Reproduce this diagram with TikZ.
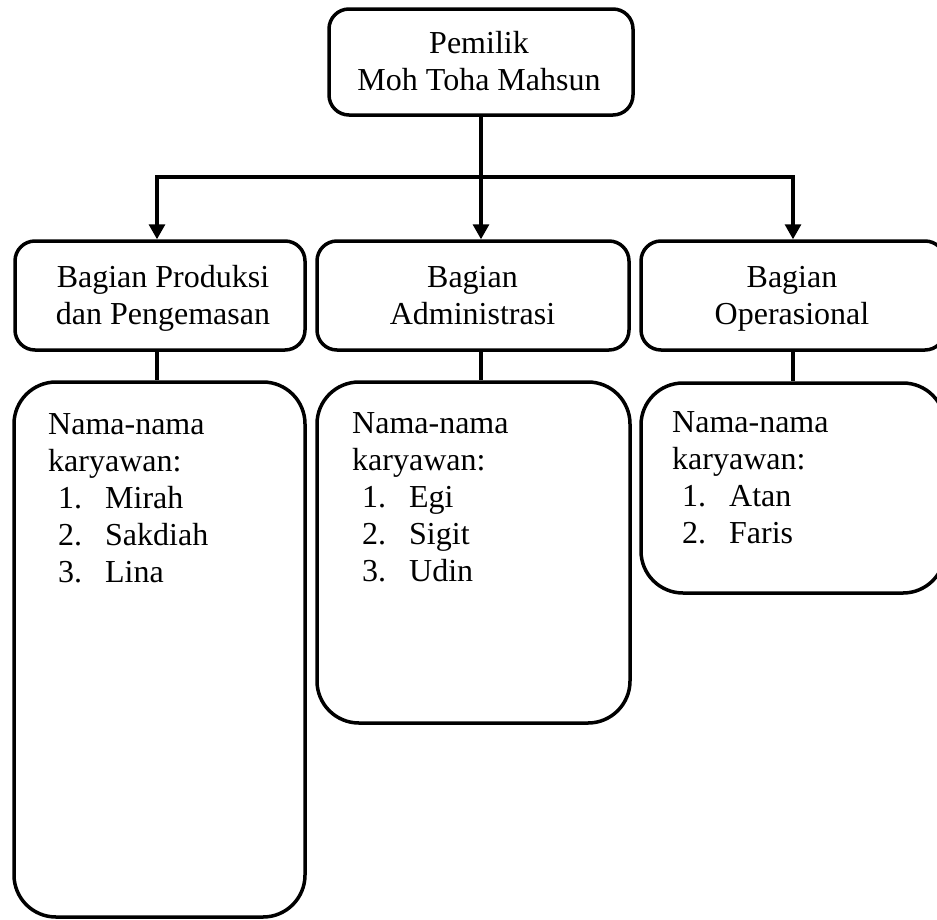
\documentclass[tikz,border=0pt]{standalone}
\usepackage{fontspec}
\setmainfont{Liberation Serif}
\usetikzlibrary{arrows.meta}
\begin{document}
\begin{tikzpicture}[x=1pt,y=-1pt,
  box/.style={draw, line width=3.5pt, rounded corners=20pt, inner sep=0pt},
  bigbox/.style={draw, line width=3.5pt, rounded corners=42pt, inner sep=0pt},
  txt/.style={inner sep=0pt, font=\fontsize{32}{37}\selectfont},
  link/.style={line width=3.2pt},
  arr/.style={line width=3.2pt, -{Triangle[length=15pt,width=16pt]}}]
\useasboundingbox (0,0) rectangle (937,919);
\clip (0,0) rectangle (937,919);
% boxes
\node[box, minimum width=304pt, minimum height=106pt] (own) at (481,62) {};
\node[box, minimum width=290pt, minimum height=109pt] (pL) at (160,295.5) {};
\node[box, minimum width=312pt, minimum height=109pt] (pC) at (473,295.5) {};
\node[box, minimum width=304pt, minimum height=109pt] (pR) at (793,295.5) {};
\node[bigbox, minimum width=291pt, minimum height=535pt] (lL) at (159.5,649.5) {};
\node[bigbox, minimum width=313pt, minimum height=341pt] (lC) at (473.5,552.5) {};
\node[bigbox, minimum width=304pt, minimum height=210pt] (lR) at (793,488) {};
% texts
\node[txt, anchor=base] (ownT) at (479,53) {\begin{tabular}[t]{@{}c@{}}Pemilik\\Moh Toha Mahsun\end{tabular}};
\node[txt, anchor=base] (pLT) at (163,287) {\begin{tabular}[t]{@{}c@{}}Bagian Produksi\\dan Pengemasan\end{tabular}};
\node[txt, anchor=base] (pCT) at (472.5,287) {\begin{tabular}[t]{@{}c@{}}Bagian\\Administrasi\end{tabular}};
\node[txt, anchor=base] (pRT) at (792,287) {\begin{tabular}[t]{@{}c@{}}Bagian\\Operasional\end{tabular}};
\node[txt, anchor=base west] (lLT) at (48,434) {\begin{tabular}[t]{@{}l@{}}Nama-nama\\karyawan:\\
\hspace*{10pt}\makebox[47pt][l]{1.}Mirah\\
\hspace*{10pt}\makebox[47pt][l]{2.}Sakdiah\\
\hspace*{10pt}\makebox[47pt][l]{3.}Lina\end{tabular}};
\node[txt, anchor=base west] (lCT) at (352,433) {\begin{tabular}[t]{@{}l@{}}Nama-nama\\karyawan:\\
\hspace*{10pt}\makebox[47pt][l]{1.}Egi\\
\hspace*{10pt}\makebox[47pt][l]{2.}Sigit\\
\hspace*{10pt}\makebox[47pt][l]{3.}Udin\end{tabular}};
\node[txt, anchor=base west] (lRT) at (672,432) {\begin{tabular}[t]{@{}l@{}}Nama-nama\\karyawan:\\
\hspace*{10pt}\makebox[47pt][l]{1.}Atan\\
\hspace*{10pt}\makebox[47pt][l]{2.}Faris\end{tabular}};
% connectors
\coordinate (jc) at (481,177);
\coordinate (jl) at (157,177);
\coordinate (jr) at (793,177);
\draw[arr] (jc) -- (jl) -- (jl |- pL.north);
\draw[arr] (jc) -- (jr) -- (jr |- pR.north);
\draw[arr] (own.south) -- (own.south |- pC.north);
\draw[link] (pL.south -| jl) -- (lL.north -| jl);
\draw[link] (pC.south -| jc) -- (lC.north -| jc);
\draw[link] (pR.south -| jr) -- (lR.north -| jr);
\end{tikzpicture}
\end{document}
